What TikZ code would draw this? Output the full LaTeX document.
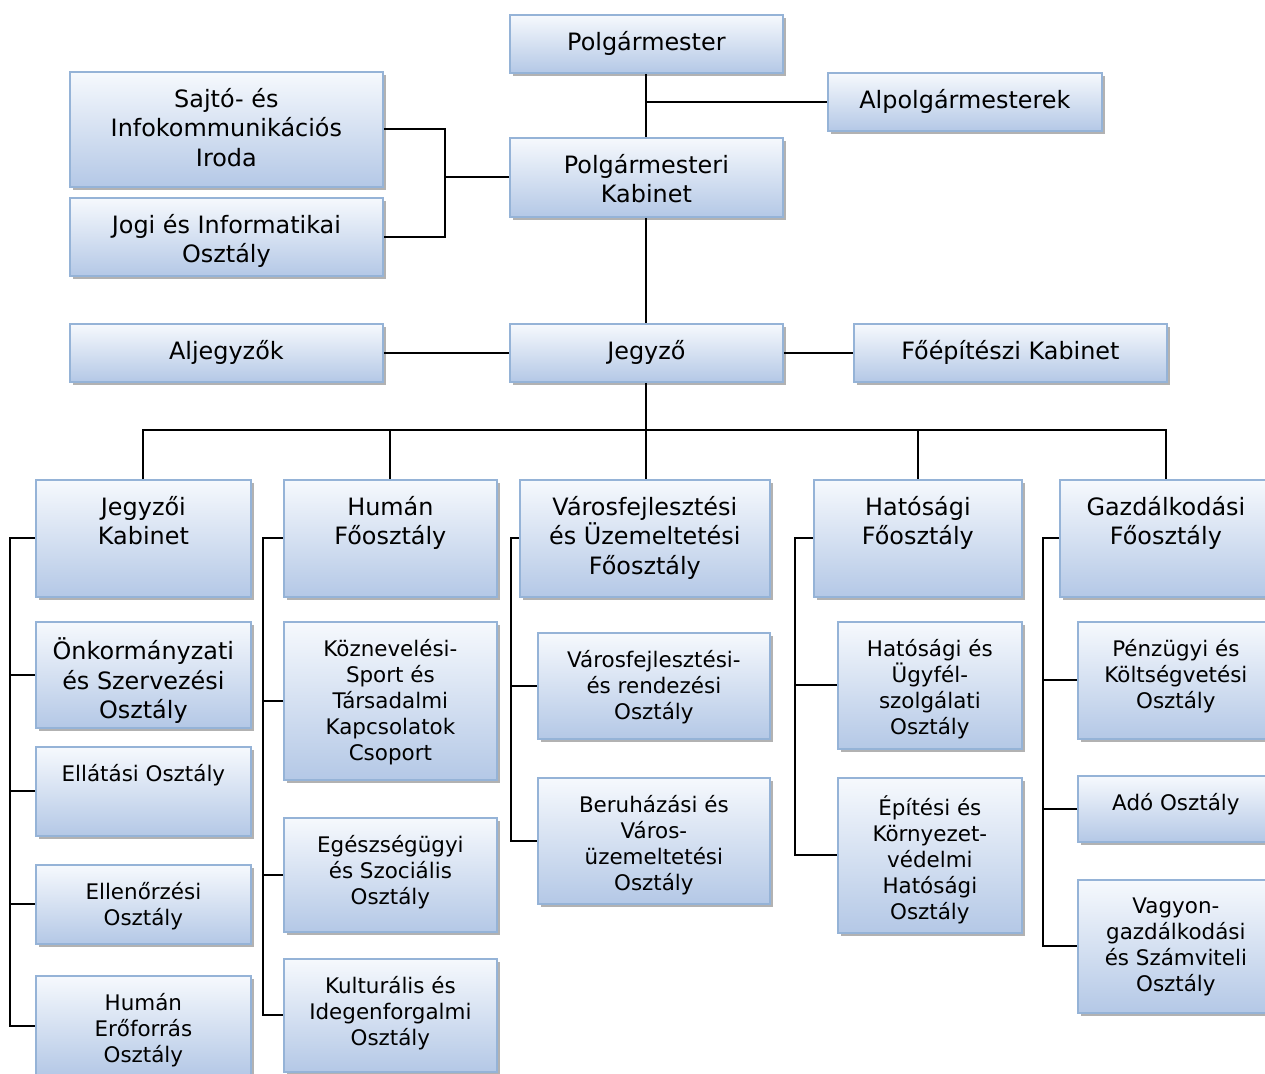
\documentclass[tikz,border=0pt]{standalone}
\usepackage{fontspec}
\setmainfont{DejaVu Sans}
\usetikzlibrary{shadows}

\definecolor{unitline}{RGB}{149,179,215}
\definecolor{unittop}{RGB}{246,249,253}
\definecolor{unitbot}{RGB}{180,200,230}

\begin{document}
\begin{tikzpicture}[x=0.2mm, y=-0.2mm, line width=0.4mm]
    \tikzstyle{unit} = [draw=unitline, line width=0.35mm, top color=unittop, bottom color=unitbot,
    drop shadow={shadow xshift=0.7mm, shadow yshift=-0.7mm, fill=black!30, opacity=1},
    anchor=north west, inner sep=0pt]
    \tikzstyle{bigtxt} = [anchor=north, inner sep=0pt, align=center, yshift=-3.2mm,
    font=\fontsize{13.6}{16.8}\selectfont]
    \tikzstyle{smalltxt} = [anchor=north, inner sep=0pt, align=center, yshift=-3.5mm,
    font=\fontsize{12.2}{14.8}\selectfont]

    \useasboundingbox (0,0) rectangle (1265,1073);
    \clip (0,0) rectangle (1265,1073);

    % vezetes
    \node [unit, minimum width=54.6mm, minimum height=11.6mm, label={[bigtxt]north:Polgármester}] (pm) at (509,14) {};
    \node [unit, minimum width=54.8mm, minimum height=11.6mm, label={[bigtxt]north:Alpolgármesterek}] (alp) at (827,72) {};
    \node [unit, minimum width=62.6mm, minimum height=23mm, label={[bigtxt]north:{Sajtó- és\\Infokommunikációs\\Iroda}}] (sajto) at (69,71) {};
    \node [unit, minimum width=62.6mm, minimum height=15.6mm, label={[bigtxt]north:{Jogi és Informatikai\\Osztály}}] (jogi) at (69,197) {};
    \node [unit, minimum width=54.6mm, minimum height=15.8mm, label={[bigtxt]north:{Polgármesteri\\Kabinet}}] (pk) at (509,137) {};
    \node [unit, minimum width=62.6mm, minimum height=11.6mm, label={[bigtxt]north:Aljegyzők}] (alj) at (69,323) {};
    \node [unit, minimum width=54.6mm, minimum height=11.6mm, label={[bigtxt]north:Jegyző}] (jegyzo) at (509,323) {};
    \node [unit, minimum width=62.6mm, minimum height=11.6mm, label={[bigtxt]north:Főépítészi Kabinet}] (foep) at (853,323) {};

    % foosztalyok
    \node [unit, minimum width=43mm, minimum height=23.4mm, label={[bigtxt]north:{Jegyzői\\Kabinet}}] (jk) at (35,479) {};
    \node [unit, minimum width=42.6mm, minimum height=23.4mm, label={[bigtxt]north:{Humán\\Főosztály}}] (hf) at (283,479) {};
    \node [unit, minimum width=50mm, minimum height=23.4mm, label={[bigtxt]north:{Városfejlesztési\\és Üzemeltetési\\Főosztály}}] (vf) at (519,479) {};
    \node [unit, minimum width=41.6mm, minimum height=23.4mm, label={[bigtxt]north:{Hatósági\\Főosztály}}] (hat) at (813,479) {};
    \node [unit, minimum width=42.4mm, minimum height=23.4mm, label={[bigtxt]north:{Gazdálkodási\\Főosztály}}] (gf) at (1059,479) {};

    % osztalyok
    \node [unit, minimum width=43mm, minimum height=21.2mm, label={[bigtxt]north:{Önkormányzati\\és Szervezési\\Osztály}}] (onk) at (35,621) {};
    \node [unit, minimum width=43mm, minimum height=17.8mm, label={[smalltxt]north:Ellátási Osztály}] (ell) at (35,746) {};
    \node [unit, minimum width=43mm, minimum height=15.8mm, label={[smalltxt]north:{Ellenőrzési\\Osztály}}] (ellen) at (35,864) {};
    \node [unit, minimum width=43mm, minimum height=20mm, label={[smalltxt]north:{Humán\\Erőforrás\\Osztály}}] (he) at (35,975) {};

    \node [unit, minimum width=42.6mm, minimum height=31.6mm, label={[smalltxt]north:{Köznevelési-\\Sport és\\Társadalmi\\Kapcsolatok\\Csoport}}] (koz) at (283,621) {};
    \node [unit, minimum width=42.6mm, minimum height=22.8mm, label={[smalltxt]north:{Egészségügyi\\és Szociális\\Osztály}}] (eg) at (283,817) {};
    \node [unit, minimum width=42.6mm, minimum height=22.6mm, label={[smalltxt]north:{Kulturális és\\Idegenforgalmi\\Osztály}}] (kult) at (283,958) {};

    \node [unit, minimum width=46.4mm, minimum height=21.2mm, label={[smalltxt]north:{Városfejlesztési-\\és rendezési\\Osztály}}] (vr) at (537,632) {};
    \node [unit, minimum width=46.4mm, minimum height=25.2mm, label={[smalltxt]north:{Beruházási és\\Város-\\üzemeltetési\\Osztály}}] (ber) at (537,777) {};

    \node [unit, minimum width=36.8mm, minimum height=25.4mm, label={[smalltxt]north:{Hatósági és\\Ügyfél-\\szolgálati\\Osztály}}] (ugyf) at (837,621) {};
    \node [unit, minimum width=36.8mm, minimum height=31mm, label={[smalltxt]north:{Építési és\\Környezet-\\védelmi\\Hatósági\\Osztály}}] (ep) at (837,777) {};

    \node [unit, minimum width=39.2mm, minimum height=23.4mm, label={[smalltxt]north:{Pénzügyi és\\Költségvetési\\Osztály}}] (penz) at (1077,621) {};
    \node [unit, minimum width=39.2mm, minimum height=13.2mm, label={[smalltxt]north:Adó Osztály}] (ado) at (1077,775) {};
    \node [unit, minimum width=39.2mm, minimum height=26.6mm, label={[smalltxt]north:{Vagyon-\\gazdálkodási\\és Számviteli\\Osztály}}] (vagy) at (1077,879) {};

    % kapcsolatok
    \draw (pm.south) -- (pk.north);
    \draw (pm.south |- alp.west) -- (alp.west);
    \draw (pk.west) -- ++(-64,0) coordinate (sj);
    \draw (sajto.east) -| (sj) |- (jogi.east);
    \draw (pk.south) -- (jegyzo.north);
    \draw (alj.east) -- (jegyzo.west);
    \draw (jegyzo.east) -- (foep.west);

    \coordinate (bus) at (645,430);
    \draw (jegyzo.south) -- (jegyzo.south |- vf.north);
    \draw (jk.north) |- (bus) -| (gf.north);
    \draw (bus) -| (hf.north);
    \draw (bus) -| (hat.north);

    \draw (jk.west) -- ++(-25,0) |- (he.west);
    \foreach \u in {onk,ell,ellen} \draw (\u.west) -- ++(-25,0);
    \draw (hf.west) -- ++(-20,0) |- (kult.west);
    \foreach \u in {koz,eg} \draw (\u.west) -- ++(-20,0);
    \draw (vf.west) -- ++(-8,0) |- (ber.west);
    \draw (vr.west) -- ++(-26,0);
    \draw (hat.west) -- ++(-18,0) |- (ep.west);
    \draw (ugyf.west) -- ++(-42,0);
    \draw (gf.west) -- ++(-16,0) |- (vagy.west);
    \foreach \u in {penz,ado} \draw (\u.west) -- ++(-34,0);
\end{tikzpicture}
\end{document}
